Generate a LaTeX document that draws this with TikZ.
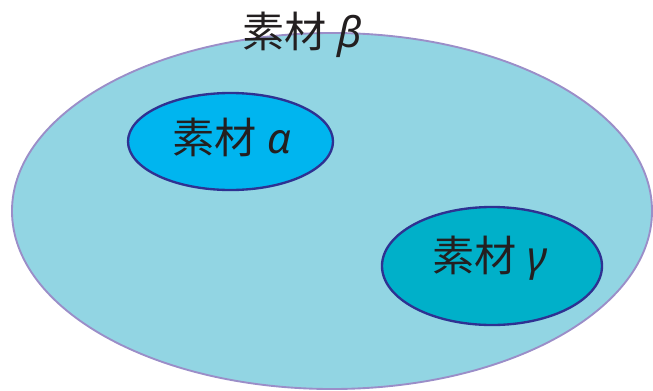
\documentclass[tikz,border=0pt]{standalone}
\usepackage{fontspec}
\usepackage{tikz}
\usetikzlibrary{shapes.geometric}
\newfontfamily\cjk{Noto Sans CJK JP}
\newfontfamily\grk{Noto Sans}
\definecolor{setfill}{HTML}{92D5E3}
\definecolor{setedge}{HTML}{9B8EC8}
\definecolor{afill}{HTML}{00B5EF}
\definecolor{gfill}{HTML}{00B0C9}
\definecolor{subedge}{HTML}{2E3192}
\definecolor{ink}{HTML}{231F20}
\tikzset{
  setB/.style={ellipse,inner sep=0pt,fill=setfill,draw=setedge,line width=1.6pt},
  setSub/.style={ellipse,inner sep=0pt,draw=subedge,line width=2pt},
  lbl/.style={inner sep=0pt,text=ink,font=\cjk\fontsize{36}{42}\selectfont}
}

\begin{document}
\begin{tikzpicture}[x=0.03cm,y=-0.03cm]
\useasboundingbox (0,0) rectangle (653,390);
% outer set
\node[setB,minimum width=19.2cm,minimum height=10.68cm] (beta) at (332,211) {};
% inner sets
\node[setSub,fill=afill,minimum width=6.15cm,minimum height=2.91cm] (alpha) at (230.5,141.5) {};
\node[setSub,fill=gfill,minimum width=6.6cm,minimum height=3.54cm] (gamma) at (492,266) {};
% labels
\node[lbl] (betaLbl) at (302,35) {素材\hspace{0.25em}{\grk\itshape β}};
\node[lbl] (alphaLbl) at (232,137) {素材\hspace{0.25em}{\grk\itshape α}};
\node[lbl] (gammaLbl) at (490,258) {素材\hspace{0.25em}{\grk\itshape γ}};
\end{tikzpicture}
\end{document}
